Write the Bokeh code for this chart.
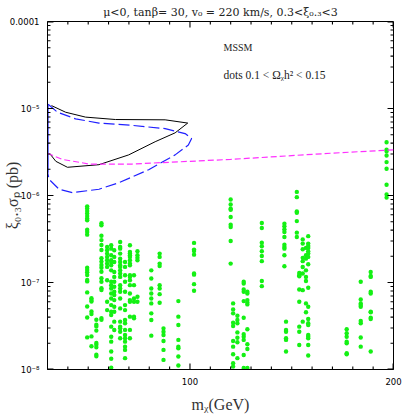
from bokeh.plotting import figure
from bokeh.models import FixedTicker, Label
from bokeh.embed import file_html
from bokeh.resources import INLINE

# ---------------- data ----------------
x_range = (30, 200)
y_range = (1e-8, 1e-4)
x_major_ticks = [100, 200]
x_minor_ticks = [40, 50, 60, 70, 80, 90, 110, 120, 130, 140, 150, 160, 170, 180, 190]
y_major_ticks = [1e-8, 1e-7, 1e-6, 1e-5, 1e-4]
y_tick_labels = ["10\u207b\u2078", "10\u207b\u2077", "10\u207b\u2076", "10\u207b\u2075", "0.0001"]
y_minor_factors = [2, 3, 4, 5, 6, 7, 8, 9]

# black solid contour (m_chi [GeV], xi*sigma_p [pb])
black_mass = [31.95, 38.9, 48.7, 63.4, 87.8, 98.9, 92.7, 82.9, 69.9, 55.3, 39.8, 34.1, 31.6]
black_sigma = [1.08e-5, 9.06e-6, 7.96e-6, 7.47e-6, 7.41e-6, 6.80e-6, 5.25e-6, 4.15e-6,
               2.93e-6, 2.26e-6, 2.11e-6, 2.47e-6, 2.93e-6]

# blue long-dashed contour
blue_mass = [30.3, 34.9, 43.8, 55.3, 71.5, 87.8, 97.6, 100.8, 99.2, 92.7, 79.7, 65.0, 55.3,
             42.2, 35.7, 30.8, 30.1]
blue_sigma = [1.12e-5, 9.06e-6, 7.6e-6, 6.8e-6, 6.4e-6, 5.87e-6, 5.15e-6, 4.52e-6, 3.8e-6,
              2.93e-6, 1.98e-6, 1.40e-6, 1.18e-6, 1.08e-6, 1.18e-6, 1.53e-6, 1.82e-6]
blue_edge_mass = [30.2, 30.2]
blue_edge_sigma = [1.82e-6, 1.12e-5]

# magenta short-dashed limit curve
magenta_mass = [30, 37.3, 50.5, 71.5, 120, 169, 200]
magenta_sigma = [3.06e-6, 2.6e-6, 2.3e-6, 2.3e-6, 2.6e-6, 3.06e-6, 3.35e-6]

# green dots: 0.1 < Omega h^2 < 0.15 ; sigma in units of 1e-7 pb
dot_unit = 1e-7
dot_column_mass = [49.5, 51.6, 54.0, 56.5, 59.3, 61.3, 62.8, 65.7, 68.1, 70.5, 72.5, 74.2,
                   81.0, 85.1, 87.0, 94.3, 102.0, 120.0, 121.2, 123.3, 126.4, 128.2, 135.3,
                   146.4, 147.2, 152.5, 153.7, 155.4, 157.0, 158.1, 177.0, 183.9, 188.8, 196.6]
dot_column_sigma = [
    [7.5, 7.1, 6.65, 6.2, 5.8, 5.45, 5.2, 4.05, 3.8, 3.55, 1.48, 1.39, 1.31, 1.22, 1.07, 1.03, 0.77, 0.53, 0.396, 0.234],
    [0.66, 0.63, 0.605, 0.465, 0.435, 0.24, 0.185],
    [0.373, 0.327, 0.313, 0.28, 0.202, 0.193, 0.18, 0.148, 0.142],
    [4.8, 4.55, 3.45, 3.07, 2.7, 2.36, 1.9, 1.74, 1.59, 1.48, 1.33, 1.12, 1.02, 0.86, 0.82, 0.39, 0.373],
    [2.56, 2.35, 2.15, 1.97, 1.80, 1.65, 1.51, 1.06, 0.601, 0.482],
    [2.68, 2.45, 2.06, 1.80, 1.72, 1.58, 1.38, 1.02, 0.932, 0.853, 0.748, 0.656, 0.550, 0.462, 0.423, 0.311, 0.238, 0.209, 0.161, 0.133, 0.105],
    [2.35, 1.97, 1.72, 1.32, 1.16, 1.02, 0.893, 0.782, 0.718, 0.628, 0.526, 0.462, 0.355, 0.285],
    [2.92, 2.56, 2.45, 2.15, 1.88, 1.72, 1.58, 1.51, 1.38, 1.27, 1.16, 0.932, 0.853, 0.782, 0.656, 0.504, 0.355, 0.311, 0.297, 0.272, 0.229],
    [1.72, 1.51, 1.21, 1.02, 0.782, 0.550, 0.482, 0.370, 0.340, 0.285, 0.249, 0.229, 0.209, 0.183, 0.168, 0.135],
    [2.68, 2.25, 2.15, 2.06, 1.97, 1.80, 1.65, 1.58, 1.21, 1.16, 1.06, 0.932, 0.748, 0.628, 0.601, 0.405, 0.285, 0.229],
    [1.21, 0.932, 0.656, 0.601, 0.405, 0.387],
    [2.29, 2.06, 1.92, 1.80, 0.686, 0.601],
    [1.38, 1.11, 0.853, 0.748, 0.656, 0.575, 0.442, 0.370, 0.245],
    [2.15, 1.97, 1.65, 1.55, 0.932, 0.853, 0.735, 0.585],
    [0.297, 0.272, 0.249, 0.213, 0.168, 0.129],
    [0.611, 0.405, 0.325, 0.219, 0.183, 0.175, 0.141, 0.111],
    [2.85, 2.39, 2.30, 2.09, 1.27, 1.23, 0.957, 0.803],
    [9.0, 7.89, 7.03, 6.85, 5.65, 4.62, 4.34, 3.0, 1.65],
    [0.575, 0.491, 0.442, 0.345, 0.316, 0.213, 0.183, 0.150, 0.118, 0.108],
    [0.415, 0.370, 0.340, 0.267, 0.232, 0.206, 0.135],
    [1.02, 0.975, 0.83, 0.782, 0.611, 0.394, 0.254, 0.238, 0.219, 0.147, 0.104],
    [0.782, 0.748, 0.628, 0.59, 0.56, 0.29, 0.195, 0.172, 0.104],
    [4.82, 4.23, 2.87, 2.61, 2.29, 2.02, 1.76, 1.04, 0.908],
    [4.74, 4.42, 4.08, 3.80, 3.33, 2.72, 2.56, 2.45, 2.06, 1.54],
    [0.355, 0.285, 0.272, 0.229, 0.219, 0.161],
    [11.0, 9.57, 6.56, 6.33, 5.08, 3.74, 3.33],
    [1.29, 1.21, 1.18, 0.830, 0.601, 0.311, 0.272, 0.191],
    [3.13, 2.80, 2.41, 1.92, 1.76, 1.51, 1.27, 0.817, 0.355],
    [2.50, 2.06, 1.88, 1.38, 1.16, 1.04, 0.575, 0.455],
    [3.41, 2.80, 2.63, 2.50, 2.29, 2.15, 1.97, 1.62, 0.869, 0.526, 0.38, 0.34, 0.325, 0.249, 0.238, 0.229, 0.191, 0.145],
    [0.29, 0.261, 0.238, 0.209, 0.20, 0.154, 0.150],
    [1.02, 0.638, 0.575, 0.55, 0.526, 0.361, 0.34, 0.233, 0.183],
    [1.32, 1.19, 1.16, 0.782, 0.748, 0.462, 0.455, 0.394, 0.38, 0.161],
    [40.9, 33.5, 32.3, 28.8, 24.2, 20.3, 13.3, 10.3, 9.46],
]

title_text = "\u03bc<0, tan\u03b2= 30, v\u2080 = 220 km/s, 0.3<\u03be\u2080.\u2083<3"
x_label_text = "m\u1d6a(GeV)"
y_label_text = "\u03be\u2080.\u2083\u03c3\u209a (pb)"
note1_text = "MSSM"
note2_text = "dots 0.1 < \u03a9\u1d6ah\u00b2 < 0.15"

# ---------------- figure ----------------
SERIF = "Liberation Serif"
SANS = "DejaVu Sans"
W, H = 415, 415
B_LEFT, B_RIGHT, B_TOP, B_BOTTOM = 45, 22, 20, 45
FRAME_W = W - B_LEFT - B_RIGHT
FRAME_H = H - B_TOP - B_BOTTOM

p = figure(width=W, height=H, x_range=x_range, y_range=y_range,
           y_axis_type="log", output_backend="svg", toolbar_location=None,
           min_border_left=B_LEFT, min_border_right=B_RIGHT,
           min_border_top=B_TOP, min_border_bottom=B_BOTTOM,
           background_fill_color="white", border_fill_color="white",
           title=title_text)
p.title.text_font = "DejaVu Serif"
p.title.text_font_size = "11px"
p.title.text_font_style = "normal"
p.title.text_color = "#222222"
p.title.align = "center"
p.title.standoff = 6
p.title.offset = -4
p.grid.visible = False
p.outline_line_color = "black"
p.outline_line_width = 1

y_minor = [k * d for d in y_major_ticks[:-1] for k in y_minor_factors]
p.xaxis.ticker = FixedTicker(ticks=x_major_ticks, minor_ticks=x_minor_ticks)
p.yaxis.ticker = FixedTicker(ticks=y_major_ticks, minor_ticks=y_minor)
p.yaxis.major_label_overrides = {v: s for v, s in zip(y_major_ticks, y_tick_labels)}
for ax in (p.xaxis[0], p.yaxis[0]):
    ax.axis_line_color = "black"
    ax.major_tick_in = 0
    ax.major_tick_out = 0
    ax.minor_tick_in = 0
    ax.minor_tick_out = 0
    ax.major_label_text_font = SANS
    ax.major_label_text_font_size = "8.5px"
    ax.major_label_text_color = "black"
    ax.major_label_standoff = 8
    ax.axis_label_text_font = SERIF
    ax.axis_label_text_font_size = "16px"
    ax.axis_label_text_font_style = "normal"
    ax.axis_label_text_color = "#333333"
p.xaxis.axis_label = x_label_text
p.xaxis.axis_label_standoff = 8
p.yaxis.axis_label = y_label_text
p.yaxis.axis_label_standoff = -14

# dots
dm, ds = [], []
for m, col in zip(dot_column_mass, dot_column_sigma):
    for s in col:
        dm.append(m)
        ds.append(s * dot_unit)
p.scatter(dm, ds, marker="circle", size=4.4, fill_color="#14f014", line_color=None)

# curves
p.line(black_mass, black_sigma, line_color="black", line_width=1)
p.line(blue_mass, blue_sigma, line_color="#2020ff", line_width=1.2, line_dash="11 4")
p.line(blue_edge_mass, blue_edge_sigma, line_color="#2020ff", line_width=1.4)
p.line(magenta_mass, magenta_sigma, line_color="#ff30ff", line_width=1.2, line_dash="6 3")

# inward tick marks on all four sides: one broken line (NaN gaps between the pieces)
NAN = float("nan")
MAJOR_LEN, MINOR_LEN = 6, 3  # pixels
gev_per_px = (x_range[1] - x_range[0]) / FRAME_W
dec_per_px = 4.0 / FRAME_H
tx, ty = [], []
for xs, ln in ((x_major_ticks, MAJOR_LEN), (x_minor_ticks, MINOR_LEN)):
    f = 10 ** (ln * dec_per_px)
    for xv in xs:
        xv = min(xv, x_range[1] - 0.4 * gev_per_px)
        tx += [xv, xv, NAN, xv, xv, NAN]
        ty += [y_range[0], y_range[0] * f, NAN, y_range[1], y_range[1] / f, NAN]
for ys, ln in ((y_major_ticks, MAJOR_LEN), (y_minor, MINOR_LEN)):
    d = ln * gev_per_px
    for yv in ys:
        yv = min(max(yv, y_range[0] * 10 ** (0.4 * dec_per_px)), y_range[1] / 10 ** (0.4 * dec_per_px))
        tx += [x_range[0], x_range[0] + d, NAN, x_range[1], x_range[1] - d, NAN]
        ty += [yv, yv, NAN, yv, yv, NAN]
p.line(tx, ty, line_color="black", line_width=1.1)

# texts inside the frame
p.add_layout(Label(x=116.5, y=1e-4, y_offset=-26, text=note1_text, text_font=SERIF,
                   text_font_size="10px", text_align="left", text_baseline="middle",
                   text_color="#222222"))
p.add_layout(Label(x=116.5, y=1e-4, y_offset=-53, text=note2_text, text_font=SERIF,
                   text_font_size="11.5px", text_align="left", text_baseline="middle",
                   text_color="#222222"))

open("out.html", "w").write(file_html(p, INLINE))
